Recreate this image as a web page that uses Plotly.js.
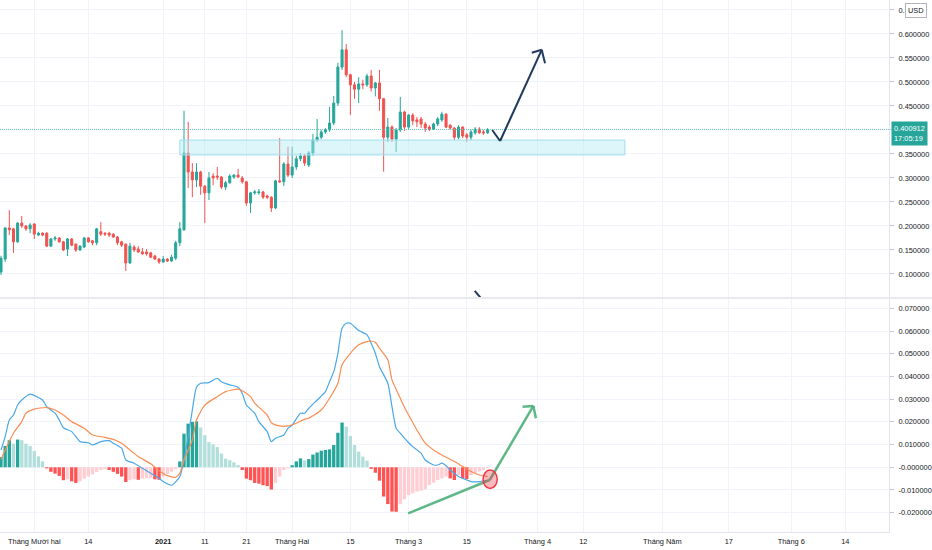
<!DOCTYPE html>
<html><head><meta charset="utf-8">
<script src="https://cdn.plot.ly/plotly-3.0.1.min.js"></script>
<style>html,body{margin:0;padding:0;background:#fff;}#chart{width:932px;height:550px;}</style>
</head><body><div id="chart"></div>
<script>
// ---- DATA (daily candles from 2020-11-23) ----
const startDate = [2020, 10, 23];
const open = [0.104,0.131,0.196,0.194,0.167,0.206,0.200,0.194,0.204,0.181,0.185,0.185,0.158,0.173,0.175,0.167,0.152,0.173,0.162,0.150,0.156,0.175,0.169,0.165,0.188,0.185,0.185,0.183,0.177,0.167,0.162,0.123,0.156,0.152,0.146,0.146,0.144,0.1375,0.131,0.125,0.131,0.127,0.133,0.165,
0.192,0.352,0.3125,0.296,0.3125,0.283,0.269,0.304,0.304,0.302,0.281,0.290,0.302,0.306,0.300,0.292,0.248,0.269,0.269,0.271,0.2625,0.260,0.2375,0.294,0.292,0.329,0.306,0.323,0.340,0.346,0.327,0.352,0.379,0.385,0.396,0.400,0.4146,0.456,0.531,0.567,0.515,0.494,0.485,0.496,0.494,0.5125,0.4875,0.498,0.465,0.385,0.406,0.381,0.400,0.4375,0.406,0.431,0.421,0.423,0.4125,0.406,0.402,0.4125,0.421,0.433,0.410,0.404,0.385,0.406,0.390,0.385,0.394,0.402,0.396,0.394];
const high = [0.138,0.198,0.233,0.196,0.208,0.221,0.202,0.206,0.206,0.188,0.187,0.187,0.175,0.179,0.177,0.169,0.175,0.175,0.164,0.160,0.177,0.177,0.171,0.196,0.208,0.187,0.188,0.185,0.179,0.169,0.164,0.165,0.160,0.158,0.154,0.152,0.146,0.140,0.133,0.1375,0.133,0.140,0.169,0.208,
0.440,0.417,0.331,0.331,0.315,0.285,0.3125,0.310,0.323,0.304,0.294,0.308,0.308,0.319,0.304,0.294,0.271,0.275,0.277,0.273,0.265,0.262,0.296,0.383,0.333,0.365,0.365,0.346,0.352,0.350,0.356,0.392,0.423,0.400,0.404,0.448,0.471,0.540,0.608,0.579,0.517,0.500,0.510,0.505,0.517,0.525,0.500,0.525,0.467,0.425,0.410,0.404,0.469,0.440,0.433,0.435,0.427,0.427,0.417,0.410,0.415,0.427,0.438,0.435,0.412,0.406,0.410,0.408,0.394,0.400,0.406,0.406,0.400,0.404];
const low = [0.098,0.125,0.181,0.144,0.165,0.196,0.190,0.185,0.173,0.179,0.179,0.156,0.156,0.169,0.165,0.148,0.1375,0.158,0.146,0.148,0.154,0.165,0.160,0.160,0.179,0.179,0.177,0.175,0.160,0.156,0.106,0.121,0.146,0.144,0.140,0.138,0.133,0.129,0.121,0.123,0.125,0.125,0.129,0.158,
0.190,0.279,0.260,0.281,0.265,0.206,0.254,0.285,0.296,0.277,0.275,0.288,0.298,0.300,0.288,0.242,0.227,0.265,0.265,0.256,0.256,0.229,0.235,0.290,0.283,0.302,0.300,0.317,0.335,0.325,0.323,0.346,0.375,0.381,0.392,0.396,0.410,0.450,0.525,0.510,0.431,0.465,0.456,0.485,0.490,0.480,0.470,0.440,0.313,0.375,0.375,0.354,0.396,0.398,0.400,0.410,0.406,0.404,0.396,0.398,0.400,0.408,0.417,0.404,0.400,0.379,0.381,0.383,0.375,0.379,0.390,0.392,0.390,0.392];
const close = [0.133,0.196,0.192,0.167,0.206,0.200,0.194,0.202,0.183,0.185,0.181,0.158,0.173,0.175,0.167,0.150,0.173,0.160,0.150,0.158,0.175,0.167,0.165,0.194,0.183,0.183,0.181,0.177,0.165,0.160,0.123,0.158,0.150,0.146,0.142,0.142,0.135,0.131,0.125,0.131,0.127,0.135,0.165,0.194,
0.352,0.3125,0.296,0.3125,0.283,0.269,0.300,0.300,0.302,0.281,0.290,0.304,0.306,0.302,0.292,0.248,0.269,0.271,0.271,0.260,0.260,0.2375,0.294,0.292,0.329,0.306,0.323,0.340,0.346,0.331,0.352,0.379,0.385,0.396,0.400,0.4146,0.456,0.531,0.567,0.515,0.494,0.485,0.496,0.494,0.5125,0.4875,0.498,0.465,0.385,0.406,0.381,0.400,0.4375,0.406,0.431,0.419,0.417,0.4125,0.404,0.402,0.4125,0.423,0.433,0.406,0.404,0.385,0.406,0.3875,0.385,0.396,0.402,0.394,0.394,0.401];
const histogram = [0.0045,0.0094,0.0119,0.0104,0.0122,0.0119,0.0104,0.0094,0.0072,0.0048,0.0026,-0.0005,-0.0020,-0.0028,-0.0038,-0.0057,-0.0053,-0.0062,-0.0069,-0.0062,-0.0050,-0.0041,-0.0031,-0.0020,-0.0012,-0.0009,-0.0012,-0.0020,-0.0029,-0.0041,-0.0065,-0.0057,-0.0053,-0.0055,-0.0050,-0.0049,-0.0048,-0.0053,-0.0055,-0.0041,-0.0029,-0.0020,-0.0009,0.0026,
0.0148,0.0192,0.0200,0.0202,0.0175,0.0141,0.0111,0.0101,0.0089,0.0060,0.0038,0.0031,0.0022,0.0010,-0.0012,-0.0050,-0.0057,-0.0069,-0.0072,-0.0079,-0.0083,-0.0098,-0.0069,-0.0041,-0.0012,-0.0005,0.0009,0.0026,0.0039,0.0030,0.0036,0.0056,0.0065,0.0073,0.0076,0.0079,0.0098,0.0152,0.0197,0.0179,0.0138,0.0098,0.0069,0.0047,0.0029,-0.0007,-0.0024,-0.0059,-0.0129,-0.0162,-0.0195,-0.0196,-0.0162,-0.0141,-0.0122,-0.0115,-0.0107,-0.0103,-0.0097,-0.0078,-0.0068,-0.0056,-0.0049,-0.0041,-0.0049,-0.0056,-0.0034,-0.0049,-0.0052,-0.0034,-0.0027,-0.0019,-0.0012,-0.0004];
const macdDays = [0,1,2,3,4,5,7,9,10,11,13,14,15,17,19,21,22,24,26,27,29,30,32,34,36,38,39,41,43,44,45,46,47,48,50,52,53,55,57,58,59,61,62,64,65,66,68,69,70,72,73,74,76,78,79,80,81,82,83,84,85,86,88,89,90,91,93,94,95,96,97,98,99,101,102,104,105,106,107,108,109,110,112,113,115,117];
const macdVals = [0.0076,0.0135,0.0208,0.0230,0.0274,0.0296,0.0322,0.0307,0.0296,0.0267,0.0238,0.0208,0.0174,0.0157,0.0113,0.0108,0.0098,0.0113,0.0117,0.0106,0.0084,0.0032,0.0018,-0.0004,-0.0026,-0.0048,-0.0063,-0.0079,-0.0041,0.0032,0.0135,0.0252,0.0352,0.0370,0.0373,0.0392,0.0377,0.0363,0.0352,0.0326,0.0274,0.0238,0.0201,0.0157,0.0113,0.0128,0.0142,0.0172,0.0186,0.0238,0.0238,0.0260,0.0296,0.0333,0.0377,0.0421,0.0502,0.0612,0.0634,0.0634,0.0619,0.0602,0.0583,0.0546,0.0502,0.0443,0.0370,0.0267,0.0172,0.0150,0.0128,0.0108,0.0091,0.0062,0.0032,0.0010,0.0010,0.0018,0.0007,-0.0012,-0.0026,-0.0041,-0.0056,-0.0063,-0.0063,-0.0056];
const signalDays = [0,1,3,5,6,8,11,13,15,17,20,22,25,27,29,31,33,36,38,40,42,43,44,46,47,49,52,54,57,58,60,61,64,65,67,69,71,73,74,77,79,81,82,84,86,88,89,90,91,93,94,96,97,98,100,102,104,106,109,111,113,115,117];
const signalVals = [0.0035,0.0076,0.0150,0.0201,0.0238,0.0256,0.0263,0.0252,0.0230,0.0201,0.0172,0.0142,0.0132,0.0123,0.0106,0.0076,0.0047,0.0015,-0.0015,-0.0037,-0.0044,-0.0026,0.0032,0.0120,0.0208,0.0274,0.0311,0.0333,0.0344,0.0337,0.0311,0.0282,0.0230,0.0196,0.0182,0.0182,0.0194,0.0211,0.0216,0.0252,0.0304,0.0370,0.0451,0.0502,0.0539,0.0553,0.0555,0.0550,0.0524,0.0473,0.0385,0.0304,0.0264,0.0230,0.0164,0.0106,0.0076,0.0054,0.0025,0.0003,-0.0019,-0.0034,-0.0041];
const lastPrice = 0.400912;
const countdown = '17:05:19';
const priceTicks = [0.10,0.15,0.20,0.25,0.30,0.35,0.40,0.45,0.50,0.55,0.60,0.65];
// labels as visible: 0.40 is covered by the last-price tag, 0.65 mostly by the USD button
const priceTickText = ['0.100000','0.150000','0.200000','0.250000','0.300000','0.350000','','0.450000','0.500000','0.550000','0.600000','0.'];
const macdTicks = [-0.02,-0.01,0,0.01,0.02,0.03,0.04,0.05,0.06,0.07];
const macdTickText = ['-0.020000','-0.010000','-0.000000','0.010000','0.020000','0.030000','0.040000','0.050000','0.060000','0.070000'];
const dateTickVals = ['2020-12-01','2020-12-14','2021-01-01','2021-01-11','2021-01-21','2021-02-01','2021-02-15','2021-03-01','2021-03-15','2021-04-01','2021-04-12','2021-05-01','2021-05-17','2021-06-01','2021-06-14'];
const dateTickText = ['Tháng Mười hai','14','<b>2021</b>','11','21','Tháng Hai','15','Tháng 3','15','Tháng 4','12','Tháng Năm','17','Tháng 6','14'];
// drawings: [dayOffset, value]
const supportZone = {d0: 43.0, d1: 150, p0: 0.348, p1: 0.379};
const navyArrow = [[[118.1,0.400],[120.0,0.377]],[[120.0,0.377],[130.0,0.567]],[[127.6,0.561],[130.0,0.567]],[[130.0,0.567],[130.8,0.539]],[[113.9,0.0646],[115.3,0.0506]]];
const greenArrow = [[[97.9,-0.0203],[117.5,-0.0056]],[[117.5,-0.0056],[128.0,0.0270]],[[125.4,0.0267],[128.0,0.0270]],[[128.0,0.0270],[128.6,0.0216]]];
const circleMark = {d0: 115.9, d1: 119.3, v0: -0.0093, v1: -0.0012};

// ---- helpers ----
const base = Date.UTC(startDate[0], startDate[1], startDate[2]);
function dayStr(d){ return new Date(base + d*86400000).toISOString().slice(0,19).replace('T',' '); }
const dates = open.map((_,i)=>dayStr(i));

const UP='#26a69a', DN='#ef5350';
const histColors = histogram.map((v,i)=>{
  const prev = i>0 ? histogram[i-1] : v;
  if (v>=0) return v>=prev ? '#26a69a' : '#b2dfdb';
  return v<=prev ? '#ff5252' : '#ffcdd2';
});

const traces = [
  {type:'candlestick', x:dates, open:open, high:high, low:low, close:close, xaxis:'x', yaxis:'y',
   increasing:{line:{color:UP,width:1}, fillcolor:UP}, decreasing:{line:{color:DN,width:1}, fillcolor:DN},
   whiskerwidth:0, hoverinfo:'skip', showlegend:false},
  {type:'bar', x:dates, y:histogram, xaxis:'x', yaxis:'y2', marker:{color:histColors, line:{width:0}}, hoverinfo:'skip', showlegend:false},
  {type:'scatter', mode:'lines', x:macdDays.map(dayStr), y:macdVals, xaxis:'x', yaxis:'y2', line:{color:'#4aa8e8', width:1.2, shape:'spline', smoothing:0.6}, hoverinfo:'skip', showlegend:false},
  {type:'scatter', mode:'lines', x:signalDays.map(dayStr), y:signalVals, xaxis:'x', yaxis:'y2', line:{color:'#fb8c52', width:1.2, shape:'spline', smoothing:0.6}, hoverinfo:'skip', showlegend:false}
];

const shapes = [];
shapes.push({type:'line', xref:'paper', yref:'y', x0:0, x1:1, y0:lastPrice, y1:lastPrice, line:{color:'#6cc6ba', width:1, dash:'1px,1px'}});
shapes.push({type:'rect', xref:'x', yref:'y', x0:dayStr(supportZone.d0), x1:dayStr(supportZone.d1), y0:supportZone.p0, y1:supportZone.p1,
  fillcolor:'rgba(178,235,242,0.45)', line:{color:'#9fdcef', width:1}, layer:'above'});
navyArrow.forEach(s=>shapes.push({type:'line', xref:'x', yref:'y', x0:dayStr(s[0][0]), y0:s[0][1], x1:dayStr(s[1][0]), y1:s[1][1], line:{color:'#1f3a5c', width:2}}));
greenArrow.forEach(s=>shapes.push({type:'line', xref:'x', yref:'y2', x0:dayStr(s[0][0]), y0:s[0][1], x1:dayStr(s[1][0]), y1:s[1][1], line:{color:'rgba(76,175,122,0.9)', width:2.5}}));
shapes.push({type:'circle', xref:'x', yref:'y2', x0:dayStr(circleMark.d0), x1:dayStr(circleMark.d1), y0:circleMark.v0, y1:circleMark.v1,
  fillcolor:'rgba(242,54,69,0.35)', line:{color:'#f23645', width:1.5}});
shapes.push({type:'line', xref:'paper', yref:'paper', x0:0, x1:1.05, y0:0.4398, y1:0.4398, line:{color:'#e0e3eb', width:1.5}});

const FONT = '"Liberation Sans Narrow", "Liberation Sans", Arial, sans-serif';
const FS = 7.4;
const layout = {
  width:932, height:550, margin:{l:0, r:43, t:0, b:18, pad:0},
  paper_bgcolor:'#ffffff', plot_bgcolor:'#ffffff',
  font:{family:FONT, size:FS, color:'#131722'},
  showlegend:false, bargap:0.2,
  xaxis:{type:'date', range:[dayStr(-0.24), dayStr(213.5)], rangeslider:{visible:false},
    tickvals:dateTickVals, ticktext:dateTickText, tickangle:0, showgrid:true, gridcolor:'#f0f3fa', gridwidth:1,
    showline:true, linecolor:'#e0e3eb', ticks:'', zeroline:false, anchor:'y2', fixedrange:true, ticklabelstandoff:2},
  yaxis:{domain:[0.4417,1], range:[0.052,0.6708], side:'right', anchor:'x', tickvals:priceTicks, ticktext:priceTickText,
    showgrid:true, gridcolor:'#f0f3fa', showline:true, linecolor:'#e0e3eb', ticks:'outside', ticklen:4, tickcolor:'#c5c8d0', zeroline:false, fixedrange:true, ticklabelstandoff:3},
  yaxis2:{domain:[0,0.438], range:[-0.0285,0.0741], side:'right', anchor:'x', tickvals:macdTicks, ticktext:macdTickText,
    showgrid:true, gridcolor:'#f0f3fa', showline:true, linecolor:'#e0e3eb', ticks:'outside', ticklen:4, tickcolor:'#c5c8d0', zeroline:false, fixedrange:true, ticklabelstandoff:3},
  shapes:shapes,
  annotations:[
    {xref:'paper', yref:'y', x:1, y:lastPrice, xanchor:'left', yanchor:'middle', xshift:2, yshift:-4, showarrow:false,
     text:lastPrice.toFixed(6)+'<br>'+countdown, bgcolor:'#26a69a', font:{color:'#ffffff', size:FS, family:FONT}, borderpad:2, align:'left'},
    {xref:'paper', yref:'paper', x:1.0305, y:0.981, xanchor:'center', yanchor:'middle', showarrow:false, text:'USD',
     bgcolor:'#ffffff', bordercolor:'#b2b5be', borderwidth:1, borderpad:2, font:{size:FS, color:'#131722', family:FONT}}
  ]
};
Plotly.newPlot('chart', traces, layout, {displayModeBar:false, staticPlot:true});
</script></body></html>
